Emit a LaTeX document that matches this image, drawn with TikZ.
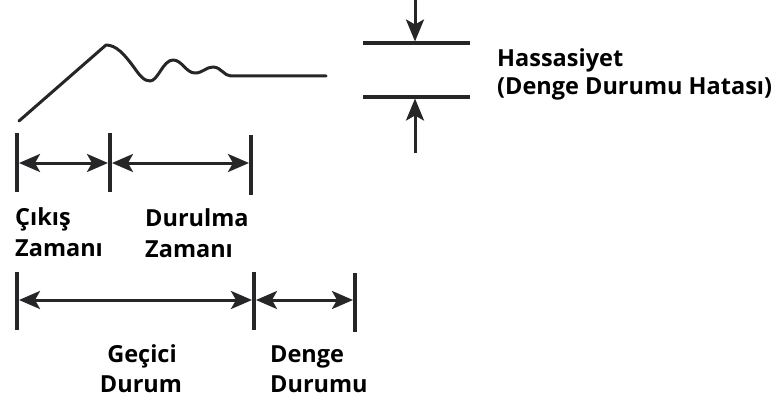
\documentclass[tikz,border=0pt]{standalone}
\usepackage{fontspec}
\setmainfont{Open Sans}
\usetikzlibrary{arrows.meta}
\definecolor{ink}{RGB}{38,38,40}
\tikzset{
  curve/.style={draw=ink, line width=3, line join=round, line cap=round},
  tick/.style={draw=ink, line width=4},
  level/.style={draw=ink, line width=3.5},
  dim/.style={draw=ink, line width=3, {Stealth[length=21,width=18,inset=5]}-{Stealth[length=21,width=18,inset=5]}},
  pointer/.style={draw=ink, line width=3, -{Stealth[length=22,width=18,inset=5]}},
  lbl/.style={inner sep=0, font=\bfseries\fontsize{23.5}{28}\selectfont, text=black},
}
\begin{document}
\begin{tikzpicture}[x=1pt, y=-1pt]
\useasboundingbox (0,0) rectangle (776,401);
% response curve
\draw[curve] (19,121) -- (106,45)
  .. controls (116,45) and (124,54) .. (133,66)
  .. controls (140,76) and (144,81) .. (150,81)
  .. controls (158,81) and (163,60) .. (173,60)
  .. controls (182,60) and (186,73) .. (195,73)
  .. controls (203,73) and (206,67) .. (213,67)
  .. controls (221,67) and (224,76) .. (231,76)
  -- (326,76);
% tolerance band
\coordinate (b1l) at (363,43); \coordinate (b1r) at (470,43);
\coordinate (b2l) at (363,97); \coordinate (b2r) at (470,97);
\draw[level] (b1l) -- (b1r);
\draw[level] (b2l) -- (b2r);
\coordinate (ptop) at (415,0); \coordinate (ptopend) at (415,41.5);
\coordinate (pbot) at (415,153); \coordinate (pbotend) at (415,98.5);
\draw[pointer] (ptop) -- (ptopend);
\draw[pointer] (pbot) -- (pbotend);
\node[lbl, anchor=base west] (h1) at (497,67) {Hassasiyet};
\node[lbl, anchor=base west] (h2) at (497,95) {(Denge Durumu Hatası)};
% top ticks
\coordinate (t1a) at (17,133); \coordinate (t1b) at (17,192);
\coordinate (t2a) at (110,133); \coordinate (t2b) at (110,192);
\coordinate (t3a) at (251,135); \coordinate (t3b) at (251,195);
\draw[tick] (t1a) -- (t1b);
\draw[tick] (t2a) -- (t2b);
\draw[tick] (t3a) -- (t3b);
\coordinate (r1) at (19,163); \coordinate (r2l) at (108,163);
\coordinate (r2r) at (112,163); \coordinate (r3) at (249,163);
\draw[dim] (r1) -- (r2l);
\draw[dim] (r2r) -- (r3);
\node[lbl, anchor=base west] (c1) at (15,225) {Çıkış};
\node[lbl, anchor=base west] (c2) at (15,256) {Zamanı};
\node[lbl, anchor=base west] (d1) at (145,226) {Durulma};
\node[lbl, anchor=base west] (d2) at (145,257) {Zamanı};
% bottom ticks
\coordinate (u1a) at (17,272); \coordinate (u1b) at (17,330);
\coordinate (u2a) at (254,272); \coordinate (u2b) at (254,330);
\coordinate (u3a) at (355,273); \coordinate (u3b) at (355,332);
\draw[tick] (u1a) -- (u1b);
\draw[tick] (u2a) -- (u2b);
\draw[tick] (u3a) -- (u3b);
\coordinate (s1) at (19,300); \coordinate (s2l) at (252,300);
\coordinate (s2r) at (256,300); \coordinate (s3) at (353,300);
\draw[dim] (s1) -- (s2l);
\draw[dim] (s2r) -- (s3);
\node[lbl, anchor=base] (g1) at (142,362) {Geçici};
\node[lbl, anchor=base] (g2) at (141,392) {Durum};
\node[lbl, anchor=base west] (e1) at (270,362) {Denge};
\node[lbl, anchor=base west] (e2) at (270,392) {Durumu};
\end{tikzpicture}
\end{document}
